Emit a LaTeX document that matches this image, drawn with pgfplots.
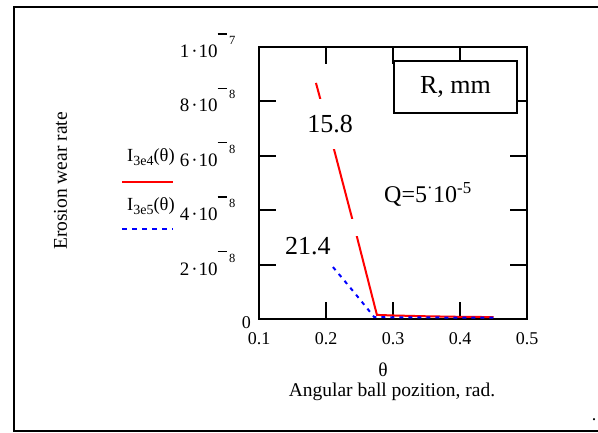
\documentclass[border=0pt]{standalone}
\usepackage{fontspec}
\setmainfont{Liberation Serif}
\usepackage{pgfplots}
\pgfplotsset{compat=1.18}

% Mathcad-style power of ten: bar-minus raised over the exponent
\newcommand{\mcexp}[1]{\raisebox{13pt}{\rule[10pt]{9pt}{1.3pt}\hspace{2.5pt}{\fontsize{12.5}{12.5}\selectfont #1}}}
\newcommand{\mclab}[2]{#1\hspace{2pt}·\hspace{1pt}10\mcexp{#2}}

\begin{document}
\begin{tikzpicture}[x=1pt,y=1pt]
\path[use as bounding box] (0,0) rectangle (598,432);
\draw[line width=1.3pt] (598,425) -- (14,425) -- (14,1) -- (598,1);

\begin{axis}[
  at={(259pt,113pt)}, anchor=south west,
  scale only axis,
  width=268pt, height=272pt,
  xmin=0.1, xmax=0.5,
  ymin=0, ymax=1e-7,
  xtick={0.1,0.2,0.3,0.4,0.5},
  xticklabels={0.1,0.2,0.3,0.4,0.5},
  ytick={0,2e-8,4e-8,6e-8,8e-8,1e-7},
  yticklabels={{},\mclab{2}{8},\mclab{4}{8},\mclab{6}{8},\mclab{8}{8},\mclab{1}{7}},
  scaled y ticks=false,
  tick align=inside,
  major tick length=17pt,
  every tick/.style={black, line width=2pt},
  axis line style={line width=2pt},
  tick label style={font=\fontsize{18}{18}\selectfont},
  xticklabel style={yshift=-10pt},
  yticklabel style={font=\fontsize{19}{19}\selectfont, anchor=base east, xshift=-20pt, yshift=-10.5pt},
]
\addplot[red, line width=2pt] coordinates {
  (0.185,8.68e-8) (0.213,6.14e-8) (0.2463,3.01e-8) (0.276,1.5e-9)
  (0.30,1.3e-9) (0.35,1.0e-9) (0.40,0.8e-9) (0.45,0.7e-9)
};
\addplot[blue, line width=2pt, dash pattern=on 4pt off 5pt] coordinates {
  (0.2104,1.91e-8) (0.243,0.95e-8) (0.272,0.07e-8) (0.30,0.06e-8) (0.45,0.05e-8)
};
\node[fill=white, inner xsep=2pt, inner ysep=16pt, font=\fontsize{26}{26}\selectfont]
  at (axis cs:0.206,7.17e-8) {15.8};
\node[fill=white, inner sep=1pt, font=\fontsize{26}{26}\selectfont]
  at (axis cs:0.173,2.68e-8) {21.4};
\node[fill=white, minimum width=8pt, minimum height=17pt, inner sep=0pt]
  at (axis cs:0.2427,3.35e-8) {};
\node[anchor=base west, inner sep=0pt, font=\fontsize{24}{24}\selectfont]
  at (axis cs:0.2866,4.30e-8) {Q=5\textsuperscript{·}10\textsuperscript{-5}};
\node[draw=black, line width=1.5pt, fill=white, minimum width=123pt, minimum height=52pt,
  font=\fontsize{26}{26}\selectfont] at (axis cs:0.3933,8.53e-8) {R, mm};
\end{axis}

% y tick label "0", set apart as Mathcad does
\node[anchor=base east, inner sep=0pt, font=\fontsize{18}{18}\selectfont] at (251,103) {0};

% legend
\node[anchor=base west, inner sep=0pt, font=\fontsize{18.5}{18.5}\selectfont] at (127,270) {I{\fontsize{14}{14}\selectfont\raisebox{-4pt}{3e4}}(θ)};
\draw[red, line width=2pt] (122,250) -- (173,250);
\node[anchor=base west, inner sep=0pt, font=\fontsize{18.5}{18.5}\selectfont] at (127,221) {I{\fontsize{14}{14}\selectfont\raisebox{-4pt}{3e5}}(θ)};
\draw[blue, line width=2pt, dash pattern=on 4.5pt off 5.5pt] (122,203) -- (173,203);

% axis titles
\node[rotate=90, font=\fontsize{19.5}{19.5}\selectfont] at (60.5,251) {Erosion wear rate};
\node[anchor=base, inner sep=0pt, font=\fontsize{19.5}{19.5}\selectfont] at (383,55.5) {θ};
\node[anchor=base, inner sep=0pt, font=\fontsize{19.5}{19.5}\selectfont] at (392,36) {Angular ball pozition, rad.};
\node[anchor=base, inner sep=0pt, font=\fontsize{18}{18}\selectfont] at (594,12) {.};
\end{tikzpicture}
\end{document}
